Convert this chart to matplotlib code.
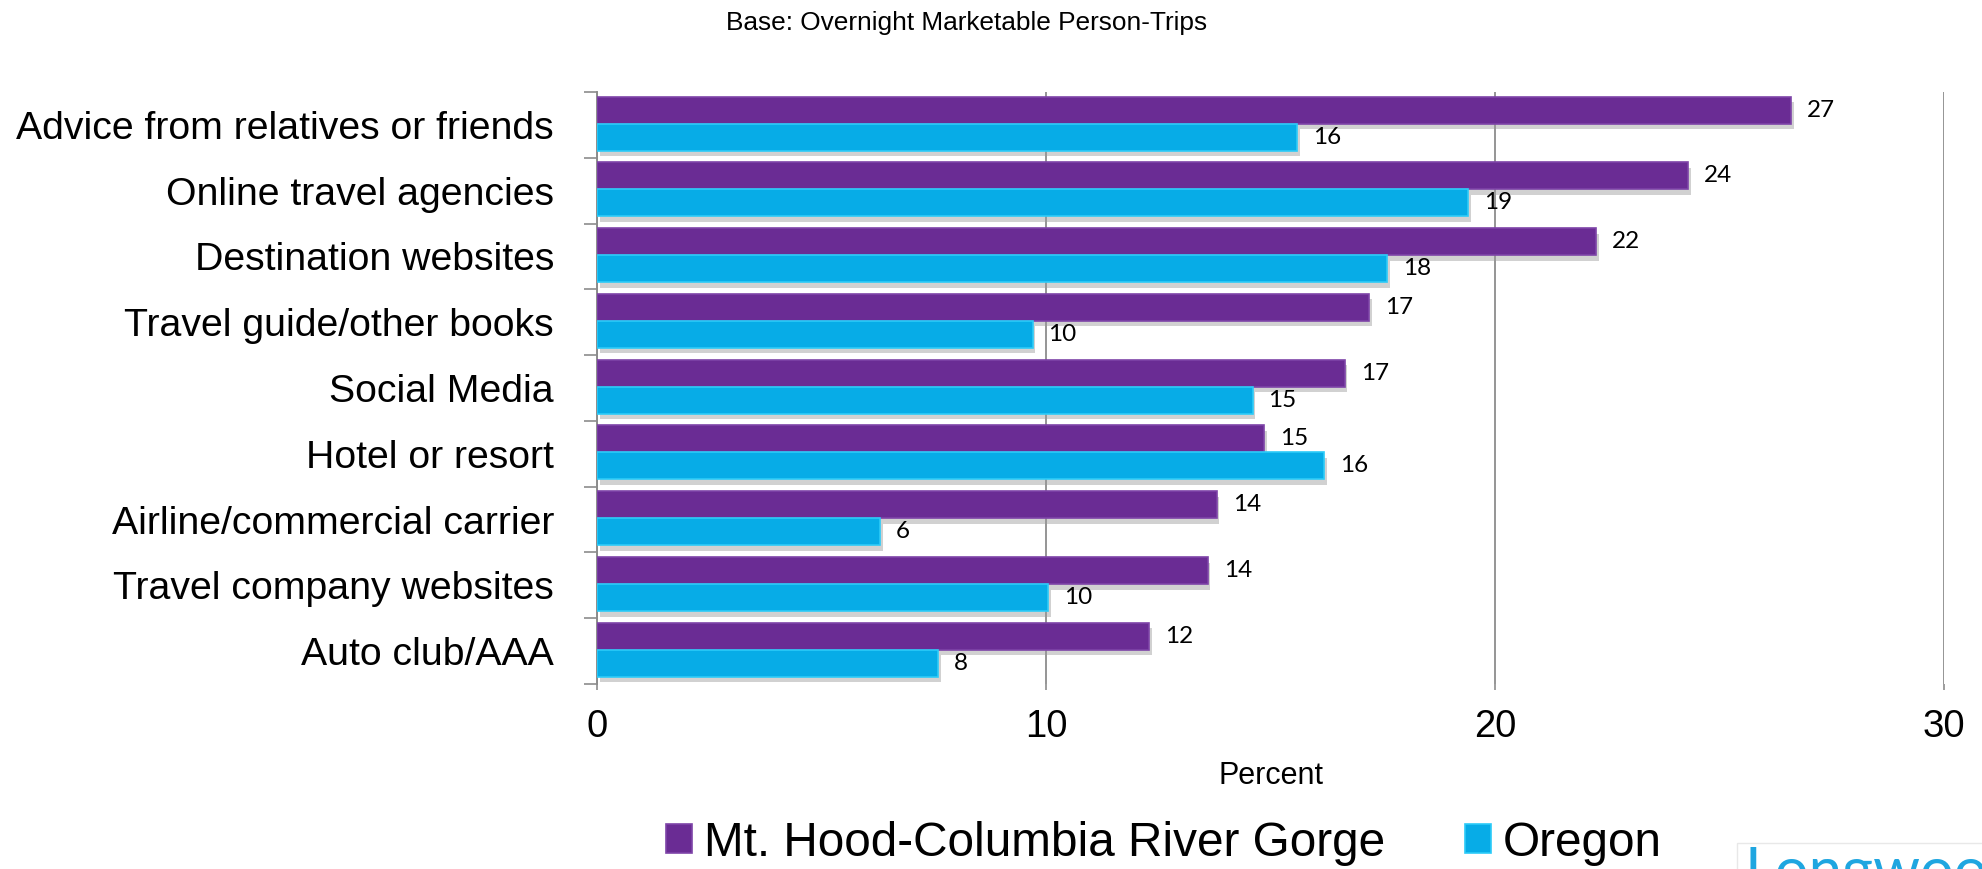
import matplotlib
matplotlib.use("Agg")
import matplotlib.pyplot as plt
from matplotlib import font_manager
from matplotlib.patches import Patch, Rectangle
import matplotlib.patheffects as pe
import numpy as np

# ---------------- data ----------------
categories = [
    "Advice from relatives or friends",
    "Online travel agencies",
    "Destination websites",
    "Travel guide/other books",
    "Social Media",
    "Hotel or resort",
    "Airline/commercial carrier",
    "Travel company websites",
    "Auto club/AAA",
]
mt_hood = [26.6, 24.3, 22.25, 17.2, 16.65, 14.85, 13.8, 13.6, 12.3]
oregon = [15.6, 19.4, 17.6, 9.7, 14.6, 16.2, 6.3, 10.05, 7.6]
series_names = ["Mt. Hood-Columbia River Gorge", "Oregon"]
x_ticks = [0, 10, 20, 30]
title_text = "Base: Overnight Marketable Person-Trips"
x_label = "Percent"

# ---------------- style ----------------
W, H = 1982, 869
purple, purple_edge = "#6A2C94", "#7E44A8"
blue, blue_edge = "#07ACE7", "#2CCBF8"
grid_col = "#8C8C8C"

names = {f.name for f in font_manager.fontManager.ttflist}
if "Liberation Sans Narrow" in names:
    cat_font, cat_size = "Liberation Sans Narrow", 33.6
else:
    cat_font, cat_size = "Liberation Sans", 28.3
sans = "Liberation Sans"
num_font = "Lato" if "Lato" in names else "DejaVu Sans"

fig = plt.figure(figsize=(W / 100, H / 100), dpi=100)
fig.patch.set_facecolor("white")

ax_l, ax_r, ax_t, ax_b = 597, 1944, 92, 684
ax = fig.add_axes([ax_l / W, 1 - ax_b / H, (ax_r - ax_l) / W, (ax_b - ax_t) / H])

y = np.arange(len(categories))
h = 0.41
shadow = [pe.SimplePatchShadow(offset=(2, -4), shadow_rgbFace="#9a9a9a", alpha=0.45), pe.Normal()]
b1 = ax.barh(y - 0.225, mt_hood, height=h, color=purple, edgecolor=purple_edge, linewidth=1.2, zorder=3)
b2 = ax.barh(y + 0.185, oregon, height=h, color=blue, edgecolor=blue_edge, linewidth=1.2, zorder=3)
for bar in list(b1) + list(b2):
    bar.set_path_effects(shadow)

for bars, vals in ((b1, mt_hood), (b2, oregon)):
    for bar, v in zip(bars, vals):
        ax.annotate(f"{round(v)}", (v, bar.get_y() + bar.get_height() / 2),
                    xytext=(11.5, 0), textcoords="offset points",
                    ha="left", va="center", fontsize=17.5, family=num_font,
                    color="black", zorder=5)

ax.set_xlim(0, 30)
ax.set_ylim(len(categories) - 0.5, -0.5)
ax.set_xticks(x_ticks)
ax.set_xticklabels([str(t) for t in x_ticks], fontsize=27.5, family=sans)
ax.tick_params(axis="x", length=4, width=1.2, color=grid_col, pad=14)

ax.set_yticks(y)
ax.set_yticklabels(categories, fontsize=cat_size, family=cat_font)
ax.tick_params(axis="y", which="major", length=0, pad=31)
ax.set_yticks(np.arange(-0.5, len(categories), 1), minor=True)
ax.tick_params(axis="y", which="minor", length=9.4, width=1.2, color=grid_col, direction="out")

for s in ("top", "right", "bottom"):
    ax.spines[s].set_visible(False)
ax.spines["left"].set_color(grid_col)
ax.spines["left"].set_linewidth(1.4)
ax.set_axisbelow(True)
ax.xaxis.grid(True, color=grid_col, linewidth=1.3, zorder=0)
ax.grid(False, axis="y")

fig.text(967 / W, 1 - 23 / H, title_text, ha="center", va="center", fontsize=18.9, family=sans)
fig.text(1271 / W, 1 - 776 / H, x_label, ha="center", va="center", fontsize=22, family=sans)

handles = [Patch(facecolor=purple, edgecolor=purple_edge, linewidth=1.2),
           Patch(facecolor=blue, edgecolor=blue_edge, linewidth=1.2)]
fig.legend(handles, series_names, loc="center", bbox_to_anchor=(1164 / W, 1 - 843 / H),
           ncol=2, frameon=False, prop={"family": sans, "size": 34.4},
           handlelength=0.54, handleheight=0.54, handletextpad=0.25,
           columnspacing=1.69, borderpad=0, borderaxespad=0)

# partially visible logo at the bottom-right corner (cut off in the reference too)
fig.patches.append(Rectangle((1737 / W, -0.05), 0.2, (1 - 843 / H) + 0.05,
                             transform=fig.transFigure, facecolor="white",
                             edgecolor="#e8e8e8", linewidth=1.0))
fig.text(1745 / W, 1 - 845 / H, "Longwoods", ha="left", va="top", fontsize=43,
         family=num_font, color="#1FA6E0")

fig.savefig("out.png", dpi=100)
